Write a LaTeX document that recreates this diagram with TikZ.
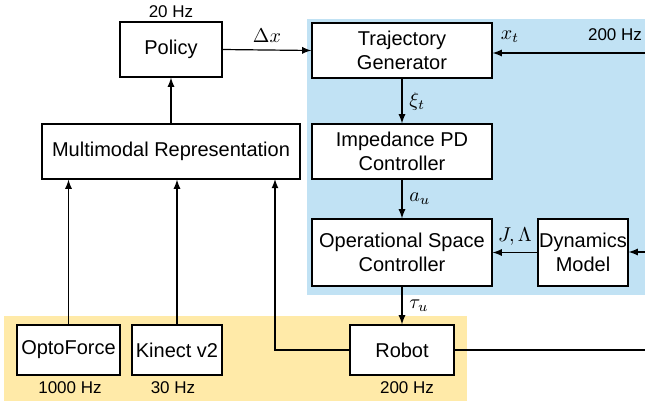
\documentclass[tikz,border=0pt]{standalone}
\usepackage{fontspec}
\setmainfont{Liberation Sans}
\usepackage{xcolor}
\definecolor{ctrlblue}{RGB}{193,226,244}
\definecolor{hwyellow}{RGB}{255,234,168}
\tikzset{
  blk/.style={draw, fill=white, line width=0.6pt, align=center, inner sep=0pt},
  hz/.style={font=\fontsize{8.5}{10}\selectfont},
  sig/.style={line width=0.6pt, ->},
}
\begin{document}
\begin{tikzpicture}[x=0.5pt, y=-0.5pt, >=latex, font=\fontsize{10}{12}\selectfont]
    \useasboundingbox (0,0) rectangle (645,403);
    % Background regions
    \fill[ctrlblue] (307,19) rectangle (645,295);
    \fill[hwyellow] (4,316) rectangle (467,401);

    % Learning side
    \node[blk, minimum width=51pt, minimum height=27.5pt] (policy) at (171,49.5) {Policy};
    \node[hz] (policyhz) at (171,12) {20 Hz};
    \node[blk, minimum width=129pt, minimum height=27.5pt] (multi) at (171,151.5) {Multimodal Representation};

    % Controller
    \node[blk, minimum width=90pt, minimum height=27.5pt] (traj) at (402,50.5) {Trajectory\\Generator};
    \node[blk, minimum width=90pt, minimum height=27.5pt] (imp) at (402,151.5) {Impedance PD\\Controller};
    \node[blk, minimum width=90pt, minimum height=33.5pt] (osc) at (402,252.5) {Operational Space\\Controller};
    \node[blk, minimum width=45pt, minimum height=33.5pt] (dyn) at (583,252.5) {Dynamics\\Model};

    % Sensors and robot
    \node[blk, minimum width=51.5pt, minimum height=25pt] (opto) at (68.5,350) {OptoForce};
    \node[blk, minimum width=45pt, minimum height=25pt] (kinect) at (177,350) {Kinect v2};
    \node[blk, minimum width=52pt, minimum height=25pt] (robot) at (402,350) {Robot};
    \node[hz] (optohz) at (70,388) {1000 Hz};
    \node[hz] (kinecthz) at (173,388) {30 Hz};
    \node[hz] (robothz) at (407,388) {200 Hz};

    % Free ends at the right border
    \coordinate (inx) at (645,53);
    \coordinate (indyn) at (645,252);
    \coordinate (outrob) at (645,350);
    \coordinate (fb) at (275,179);
    \node[hz] (xhz) at (615,35) {200 Hz};

    % Signals
    \draw[sig] (policy.east) -- node[above] {$\Delta x$} (traj.west);
    \draw[sig] (inx) -- (traj.east |- inx);
    \node (xt) at (510,37) {$x_t$};
    \draw[sig] (traj) -- node[right] {$\xi_t$} (imp);
    \draw[sig] (imp) -- node[right] {$a_u$} (osc);
    \draw[sig] (dyn) -- node[above] {$J,\Lambda$} (osc);
    \draw[sig] (indyn) -- (dyn.east |- indyn);
    \draw[sig] (osc) -- node[right] {$\tau_u$} (robot);
    \draw[line width=0.6pt] (robot.east) -- (outrob);
    \draw[sig] (robot.west) -| (fb);
    \draw[sig] (opto.north) -- (opto.north |- multi.south);
    \draw[sig] (kinect.north) -- (kinect.north |- multi.south);
    \draw[sig] (multi) -- (policy);
\end{tikzpicture}
\end{document}
